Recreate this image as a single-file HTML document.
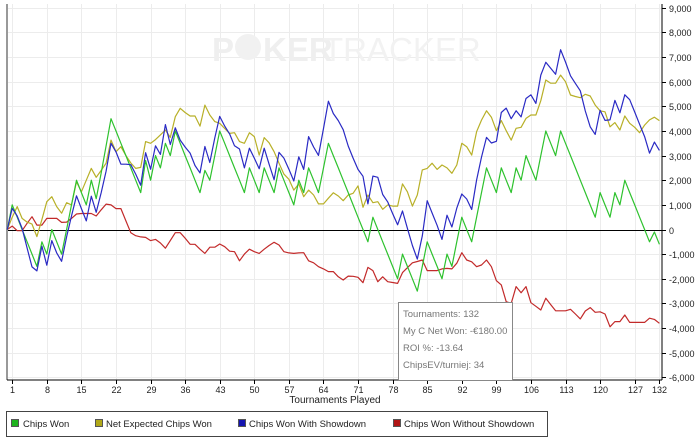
<!DOCTYPE html>
<html><head><meta charset="utf-8"><style>
html,body{margin:0;padding:0;background:#fff;}
svg{display:block;font-family:"Liberation Sans",Arial,sans-serif;}
</style></head><body>
<svg id="chart" width="700" height="445" viewBox="0 0 700 445" xmlns="http://www.w3.org/2000/svg">
<rect x="0" y="0" width="700" height="445" fill="#fff"/>
<g id="grid"></g>
<g>
<text x="212" y="61" font-size="33" font-weight="bold" fill="#efefef">P</text>
<circle cx="248" cy="47" r="13" fill="#f1f1f1"/>
<text x="263" y="61" font-size="33" font-weight="bold" fill="#efefef">KER</text>
<text x="323" y="61" font-size="33" fill="#f2f2f2">TRACKER</text>
</g>
<line x1="7" y1="4" x2="7" y2="380" stroke="#999" stroke-width="2"/>
<line x1="662" y1="4" x2="662" y2="380" stroke="#000" stroke-width="1"/>
<line x1="7" y1="380" x2="662" y2="380" stroke="#000" stroke-width="1"/>
<g id="axes"></g>
<g id="series"></g>
<g>
<rect x="398.5" y="302.5" width="114" height="78" fill="#fff" stroke="#888"/>
<text x="403" y="317" font-size="9.5" fill="#777">Tournaments: 132</text>
<text x="403" y="334" font-size="9.5" fill="#777">My C Net Won: -€180.00</text>
<text x="403" y="351" font-size="9.5" fill="#777">ROI %: -13.64</text>
<text x="403" y="368" font-size="9.5" fill="#777">ChipsEV/turniej: 34</text>
</g>
<text x="335" y="403" font-size="10" text-anchor="middle" fill="#222">Tournaments Played</text>
<g>
<rect x="6.5" y="411.5" width="541" height="25" fill="#fff" stroke="#444"/>
<rect x="11.5" y="419.5" width="7" height="7" fill="#1db31d" stroke="#555"/>
<text x="23" y="427" font-size="9.5" fill="#222">Chips Won</text>
<rect x="95.5" y="419.5" width="7" height="7" fill="#b0a818" stroke="#555"/>
<text x="106" y="427" font-size="9.5" fill="#222">Net Expected Chips Won</text>
<rect x="238.5" y="419.5" width="7" height="7" fill="#1515b0" stroke="#555"/>
<text x="249" y="427" font-size="9.5" fill="#222">Chips Won With Showdown</text>
<rect x="393.5" y="419.5" width="7" height="7" fill="#b01515" stroke="#555"/>
<text x="404" y="427" font-size="9.5" fill="#222">Chips Won Without Showdown</text>
</g>
</svg>
<script>
const xTicks = [1,8,15,22,29,36,43,50,57,64,71,78,85,92,99,106,113,120,127,132];
const yTicks = [9000,8000,7000,6000,5000,4000,3000,2000,1000,0,-1000,-2000,-3000,-4000,-5000,-6000];
const yTickLabels = ["9,000","8,000","7,000","6,000","5,000","4,000","3,000","2,000","1,000","0","-1,000","-2,000","-3,000","-4,000","-5,000","-6,000"];
const chipsWon = [0,1000,500,0,-500,-1000,-1500,-500,-1000,0,-500,-1000,0,1000,2000,1500,1000,2000,1250,2300,3400,4500,4000,3500,3000,2500,2000,1500,2800,2000,3000,2500,3500,3000,4000,3500,3000,2500,2000,1500,2400,2000,3000,4000,3500,3000,2500,2000,1500,2500,2000,1500,2500,2000,1500,2500,2000,1500,1000,2000,1500,2500,2000,1500,2500,3500,3000,2500,2000,1500,1000,500,0,-500,500,0,-500,-1000,-1500,-2000,-1000,-1500,-2000,-2500,-1500,-500,-1000,-1500,-2000,-1000,-1500,-500,500,0,-500,500,1500,2500,2000,1500,2500,2000,1500,2500,2000,3000,2500,2000,3000,4000,3500,3000,4000,3500,3000,2500,2000,1500,1000,500,1500,1000,500,1500,1000,2000,1500,1000,500,0,-500,-100,-600];
const netExpected = [0,500,930,450,300,220,-290,400,1130,1330,930,660,1090,1000,1940,1530,2000,2480,2120,2400,2690,3630,3160,3360,3000,2700,2480,2520,3570,3500,3650,3840,4040,3740,4580,4920,4750,4610,4610,4200,5050,4650,4380,4310,4100,3900,3930,3570,3500,3930,3770,3020,3730,3520,3160,2690,2250,2040,1600,1850,1330,1600,1400,1040,1040,1270,1490,1360,1170,1400,1470,1770,900,1400,1090,1130,820,1000,950,950,1850,1530,950,1400,2420,2480,2690,2440,2620,2500,2280,2620,3500,3360,3020,3970,4440,4820,4560,4010,4420,4010,3630,4110,4150,4510,4650,4650,5230,6070,5940,5940,6270,6000,5460,5400,5350,5490,5420,5050,4820,4780,4170,4340,4040,4610,4310,4150,3930,4240,4450,4560,4420];
const withShowdown = [0,860,550,50,-750,-1520,-1680,-680,-1450,-450,-950,-1290,-300,550,1370,850,350,1350,700,1500,2370,3500,3150,2650,2650,2630,2250,1800,3120,2450,3400,3050,4260,3450,4130,3630,3350,3100,2600,2300,3370,2720,3720,4590,4200,3880,3400,3270,2500,3300,2900,2470,3300,2650,2020,3130,2900,2450,1970,2950,2440,3770,3350,3010,4100,5210,4710,4420,4050,3390,2900,2440,2160,1040,2170,2120,1420,1120,650,190,750,50,-650,-1200,-260,1170,670,170,-400,580,100,870,1440,1240,810,2010,2940,3740,3510,3580,4750,4930,4500,4820,4570,5320,5470,5120,6270,6790,6550,6300,7300,6800,6240,5930,5630,4810,4170,3860,4840,4430,4450,5240,4740,5470,5270,4770,4270,3770,3100,3550,3210];
const withoutShowdown = [0,140,-50,-50,250,520,180,180,450,450,450,290,300,450,630,650,650,650,550,800,1030,1000,850,850,350,-130,-250,-300,-320,-450,-400,-550,-760,-450,-130,-130,-350,-600,-600,-800,-970,-720,-720,-590,-700,-880,-900,-1270,-1000,-800,-900,-970,-800,-650,-520,-630,-900,-950,-970,-950,-940,-1270,-1350,-1510,-1600,-1710,-1710,-1920,-2050,-1890,-1900,-1940,-2160,-1540,-1670,-2120,-1920,-2120,-2150,-2190,-1750,-1550,-1350,-1300,-1240,-1670,-1670,-1670,-1600,-1580,-1600,-1370,-940,-1240,-1310,-1510,-1440,-1240,-1510,-2080,-2250,-2930,-3000,-2320,-2570,-2320,-2970,-3120,-3270,-2790,-3050,-3300,-3300,-3300,-3240,-3430,-3630,-3310,-3170,-3360,-3340,-3430,-3950,-3740,-3740,-3470,-3770,-3770,-3770,-3770,-3600,-3650,-3810];

const NS = "http://www.w3.org/2000/svg";
const X0 = 7.3, XS = 4.94;
function xScale(i){ return X0 + i*XS; }
function yScale(v){ return 229.5 - v*0.02463; }

const grid = document.getElementById('grid');
const axes = document.getElementById('axes');
yTicks.forEach(function(v, k){
  const y = Math.round(yScale(v)) + 0.5;
  const gl = document.createElementNS(NS,'line');
  gl.setAttribute('x1',8); gl.setAttribute('x2',662); gl.setAttribute('y1',y); gl.setAttribute('y2',y);
  gl.setAttribute('stroke', v===0 ? '#000' : '#ececec');
  
  
  (v===0 ? axes : grid).appendChild(gl);
  const tk = document.createElementNS(NS,'line');
  tk.setAttribute('x1',662); tk.setAttribute('x2',666); tk.setAttribute('y1',y); tk.setAttribute('y2',y);
  tk.setAttribute('stroke','#000');
  
  
  axes.appendChild(tk);
  const t = document.createElementNS(NS,'text');
  t.setAttribute('x',669); t.setAttribute('y',y+3.5); t.setAttribute('font-size','9'); t.setAttribute('fill','#222');
  t.textContent = yTickLabels[k];
  
  
  axes.appendChild(t);
});
xTicks.forEach(function(n){
  const x = Math.round(xScale(n) ) + 0.5;
  const gl = document.createElementNS(NS,'line');
  gl.setAttribute('x1',x); gl.setAttribute('x2',x); gl.setAttribute('y1',4); gl.setAttribute('y2',380);
  gl.setAttribute('stroke','#ececec');
  
  
  grid.appendChild(gl);
  const tk = document.createElementNS(NS,'line');
  tk.setAttribute('x1',x); tk.setAttribute('x2',x); tk.setAttribute('y1',380); tk.setAttribute('y2',384);
  tk.setAttribute('stroke','#000');
  
  
  axes.appendChild(tk);
  const t = document.createElementNS(NS,'text');
  t.setAttribute('x',x); t.setAttribute('y',393); t.setAttribute('font-size','9'); t.setAttribute('fill','#222');
  t.setAttribute('text-anchor','middle');
  t.textContent = String(n);
  
  
  axes.appendChild(t);
});

const seriesG = document.getElementById('series');
function drawLine(vals, color, name){
  const p = document.createElementNS(NS,'polyline');
  p.setAttribute('points', vals.map(function(v,i){ return xScale(i).toFixed(1)+','+yScale(v).toFixed(1); }).join(' '));
  p.setAttribute('fill','none'); p.setAttribute('stroke',color); p.setAttribute('stroke-width','1.2');
  p.setAttribute('stroke-linejoin','round');
  
  
  seriesG.appendChild(p);
}
drawLine(withoutShowdown, '#c22a2a', 'series-chips-won-without-showdown');
drawLine(netExpected, '#b8b028', 'series-net-expected-chips-won');
drawLine(chipsWon, '#2ec22e', 'series-chips-won');
drawLine(withShowdown, '#2a2ac4', 'series-chips-won-with-showdown');
</script>
</body></html>
